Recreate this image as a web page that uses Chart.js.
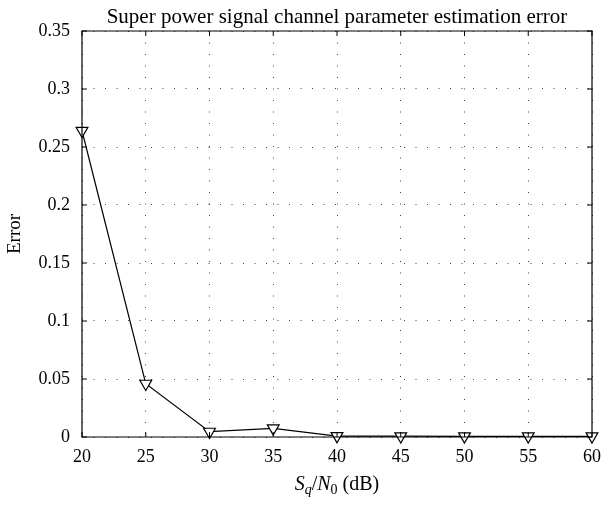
<!DOCTYPE html>
<html>
<head>
<meta charset="utf-8">
<script src="https://cdn.jsdelivr.net/npm/chart.js@4/dist/chart.umd.min.js"></script>
<style>
html,body{margin:0;padding:0;background:#fff;}
#wrap{width:610px;height:505px;position:relative;}
</style>
</head>
<body>
<div id="wrap"><canvas id="c" width="610" height="505"></canvas></div>
<script>
// ---- data ----
const snrValues = [20, 25, 30, 35, 40, 45, 50, 55, 60];
const errorValues = [0.264, 0.046, 0.0046, 0.0075, 0.0008, 0.0007, 0.0006, 0.0006, 0.0006];
const xTickLabels = ['20', '25', '30', '35', '40', '45', '50', '55', '60'];
const yTickLabels = ['0', '0.05', '0.1', '0.15', '0.2', '0.25', '0.3', '0.35'];
const chartTitle = 'Super power signal channel parameter estimation error';
const yTitle = 'Error';

const FONT = "'Liberation Serif', 'Times New Roman', serif";

const points = snrValues.map((x, i) => ({x: x, y: errorValues[i]}));

const framePlugin = {
  id: 'frame',
  afterDraw(chart) {
    const ctx = chart.ctx;
    const a = chart.chartArea;
    const xs = chart.scales.x, ys = chart.scales.y;
    ctx.save();
    ctx.strokeStyle = '#000';
    ctx.lineWidth = 1.2;
    ctx.beginPath();
    ctx.rect(a.left, a.top, a.right - a.left, a.bottom - a.top);
    ctx.stroke();
    // inward ticks
    ctx.lineWidth = 1;
    const tl = 5;
    ctx.beginPath();
    xs.ticks.forEach(t => {
      const px = xs.getPixelForValue(t.value);
      ctx.moveTo(px, a.bottom); ctx.lineTo(px, a.bottom - tl);
      ctx.moveTo(px, a.top); ctx.lineTo(px, a.top + tl);
    });
    ys.ticks.forEach(t => {
      const py = ys.getPixelForValue(t.value);
      ctx.moveTo(a.left, py); ctx.lineTo(a.left + tl, py);
      ctx.moveTo(a.right, py); ctx.lineTo(a.right - tl, py);
    });
    ctx.stroke();

    // chart title
    ctx.fillStyle = '#000';
    ctx.font = '21px ' + FONT;
    ctx.textAlign = 'center';
    ctx.textBaseline = 'alphabetic';
    const cx = (a.left + a.right) / 2;
    ctx.fillText(chartTitle, cx, 23);

    // y title
    ctx.save();
    ctx.font = '19px ' + FONT;
    ctx.translate(20, (a.top + a.bottom) / 2);
    ctx.rotate(-Math.PI / 2);
    ctx.fillText(yTitle, 0, 0);
    ctx.restore();

    // x title: S_q / N_0 (dB)
    const big = 20, small = 14;
    const parts = [
      {t: 'S', f: 'italic ' + big + 'px ' + FONT, dy: 0},
      {t: 'q', f: 'italic ' + small + 'px ' + FONT, dy: 4},
      {t: '/', f: big + 'px ' + FONT, dy: 0},
      {t: 'N', f: 'italic ' + big + 'px ' + FONT, dy: 0},
      {t: '0', f: small + 'px ' + FONT, dy: 4},
      {t: ' (dB)', f: big + 'px ' + FONT, dy: 0}
    ];
    let total = 0;
    parts.forEach(p => { ctx.font = p.f; p.w = ctx.measureText(p.t).width; total += p.w; });
    let x = cx - total / 2;
    const base = 490;
    ctx.textAlign = 'left';
    parts.forEach(p => { ctx.font = p.f; ctx.fillText(p.t, x, base + p.dy); x += p.w; });
    ctx.restore();
  }
};

new Chart(document.getElementById('c'), {
  type: 'line',
  data: {
    datasets: [{
      data: points,
      borderColor: '#000',
      borderWidth: 1.2,
      pointStyle: 'triangle',
      rotation: 180,
      pointRadius: 6.8,
      pointHoverRadius: 6.8,
      pointBackgroundColor: '#fff',
      pointBorderColor: '#000',
      pointBorderWidth: 1.2,
      tension: 0,
      fill: false,
      clip: false
    }]
  },
  options: {
    responsive: false,
    animation: false,
    events: [],
    layout: {padding: {left: 0, right: 11, top: 31, bottom: 0}},
    plugins: {legend: {display: false}, tooltip: {enabled: false}, title: {display: false}},
    scales: {
      x: {
        type: 'linear',
        min: 20, max: 60,
        afterFit(s) { s.height = 68; },
        afterBuildTicks(s) { s.ticks = snrValues.map(v => ({value: v})); },
        ticks: {
          padding: 9,
          color: '#000',
          font: {family: FONT, size: 18},
          callback: (v, i) => xTickLabels[i]
        },
        grid: {color: 'rgba(0,0,0,0.75)', lineWidth: 1, drawTicks: false},
        border: {display: false, dash: [1, 10.5]}
      },
      y: {
        type: 'linear',
        min: 0, max: 0.35,
        afterFit(s) { s.width = 82; },
        afterBuildTicks(s) { s.ticks = yTickLabels.map(v => ({value: parseFloat(v)})); },
        ticks: {
          padding: 12,
          color: '#000',
          font: {family: FONT, size: 18},
          callback: (v, i) => yTickLabels[i]
        },
        grid: {color: 'rgba(0,0,0,0.75)', lineWidth: 1, drawTicks: false},
        border: {display: false, dash: [1, 10.5]}
      }
    }
  },
  plugins: [framePlugin]
});
</script>
</body>
</html>
